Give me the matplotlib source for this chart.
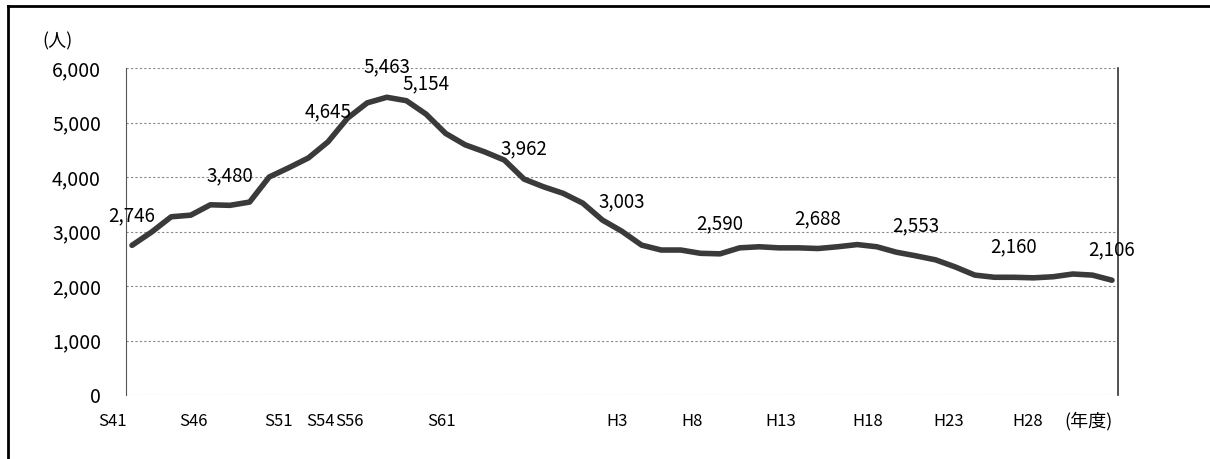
import matplotlib
matplotlib.use('Agg')
import matplotlib.pyplot as plt
from matplotlib.lines import Line2D

plt.rcParams['font.family'] = ['Noto Sans CJK JP', 'DejaVu Sans']

# 年度ごとの人数 (S41〜H28)
anios = list(range(1966, 2017))
personas = [2746, 2990, 3270, 3300, 3490, 3480, 3540, 4000, 4170, 4350,
            4645, 5080, 5360, 5463, 5400, 5154, 4800, 4590, 4460, 4310,
            3962, 3820, 3700, 3520, 3210, 3003, 2750, 2660, 2660, 2600,
            2590, 2700, 2720, 2700, 2700, 2688, 2720, 2760, 2720, 2620,
            2553, 2480, 2350, 2200, 2160, 2160, 2150, 2170, 2220, 2200,
            2106]

# ラベル付きの年度
etiquetas_anio = [1966, 1971, 1976, 1979, 1981, 1986, 1991, 1996, 2001, 2006, 2011, 2016]
etiquetas_eje = ['S41', 'S46', 'S51', 'S54', 'S56', 'S61', 'H3', 'H8', 'H13', 'H18', 'H23', 'H28']
# posicion de los textos del eje como en el original (desplazados)
pos_eje = [1965.03, 1969.16, 1973.45, 1975.60, 1977.10, 1981.77,
           1990.74, 1994.57, 1999.11, 2003.55, 2007.68, 2011.71]

fig = plt.figure(figsize=(12.1, 4.59), dpi=100)
ax = fig.add_axes([126/1210, 64/459, (1118-126)/1210, (395-68)/459])

ax.plot(anios, personas, color='#3a3a3a', linewidth=4, solid_capstyle='round',
        solid_joinstyle='round', zorder=3)

for a in etiquetas_anio:
    v = personas[anios.index(a)]
    ax.annotate(f'{v:,}', (a, v), xytext=(0, 30), textcoords='offset pixels',
                ha='center', va='center', fontsize=13.5, color='black')

ax.set_xlim(1965.694, 2016.306)
ax.set_ylim(0, 6000)
ax.set_yticks(range(0, 6001, 1000))
ax.set_yticklabels([f'{t:,}' for t in range(0, 6001, 1000)], fontsize=14)
ax.tick_params(axis='y', length=0, pad=18)
ax.set_xticks([])
ax.yaxis.grid(True, linestyle=(0, (2, 2)), color='#888888', linewidth=0.8)
ax.set_axisbelow(True)

for lado in ['top', 'bottom']:
    ax.spines[lado].set_visible(False)
ax.spines['left'].set_linestyle((0, (2, 1)))
ax.spines['left'].set_color('#555555')
ax.spines['right'].set_color('#333333')
ax.spines['right'].set_linewidth(1.2)

for p, t in zip(pos_eje, etiquetas_eje):
    ax.text(p, -0.08, t, transform=ax.get_xaxis_transform(), ha='center', va='center',
            fontsize=12, clip_on=False)
fig.text(1088/1210, 1 - 421/459, '(年度)', ha='center', va='center', fontsize=13)
fig.text(58/1210, 1 - 41/459, '(人)', ha='center', va='center', fontsize=13)

# marco exterior
fig.add_artist(Line2D([8/1210, 1], [1 - 6/459, 1 - 6/459], color='black', linewidth=2))
fig.add_artist(Line2D([8/1210, 8/1210], [0, 1 - 6/459], color='black', linewidth=2))

fig.savefig('out.png', dpi=100)
